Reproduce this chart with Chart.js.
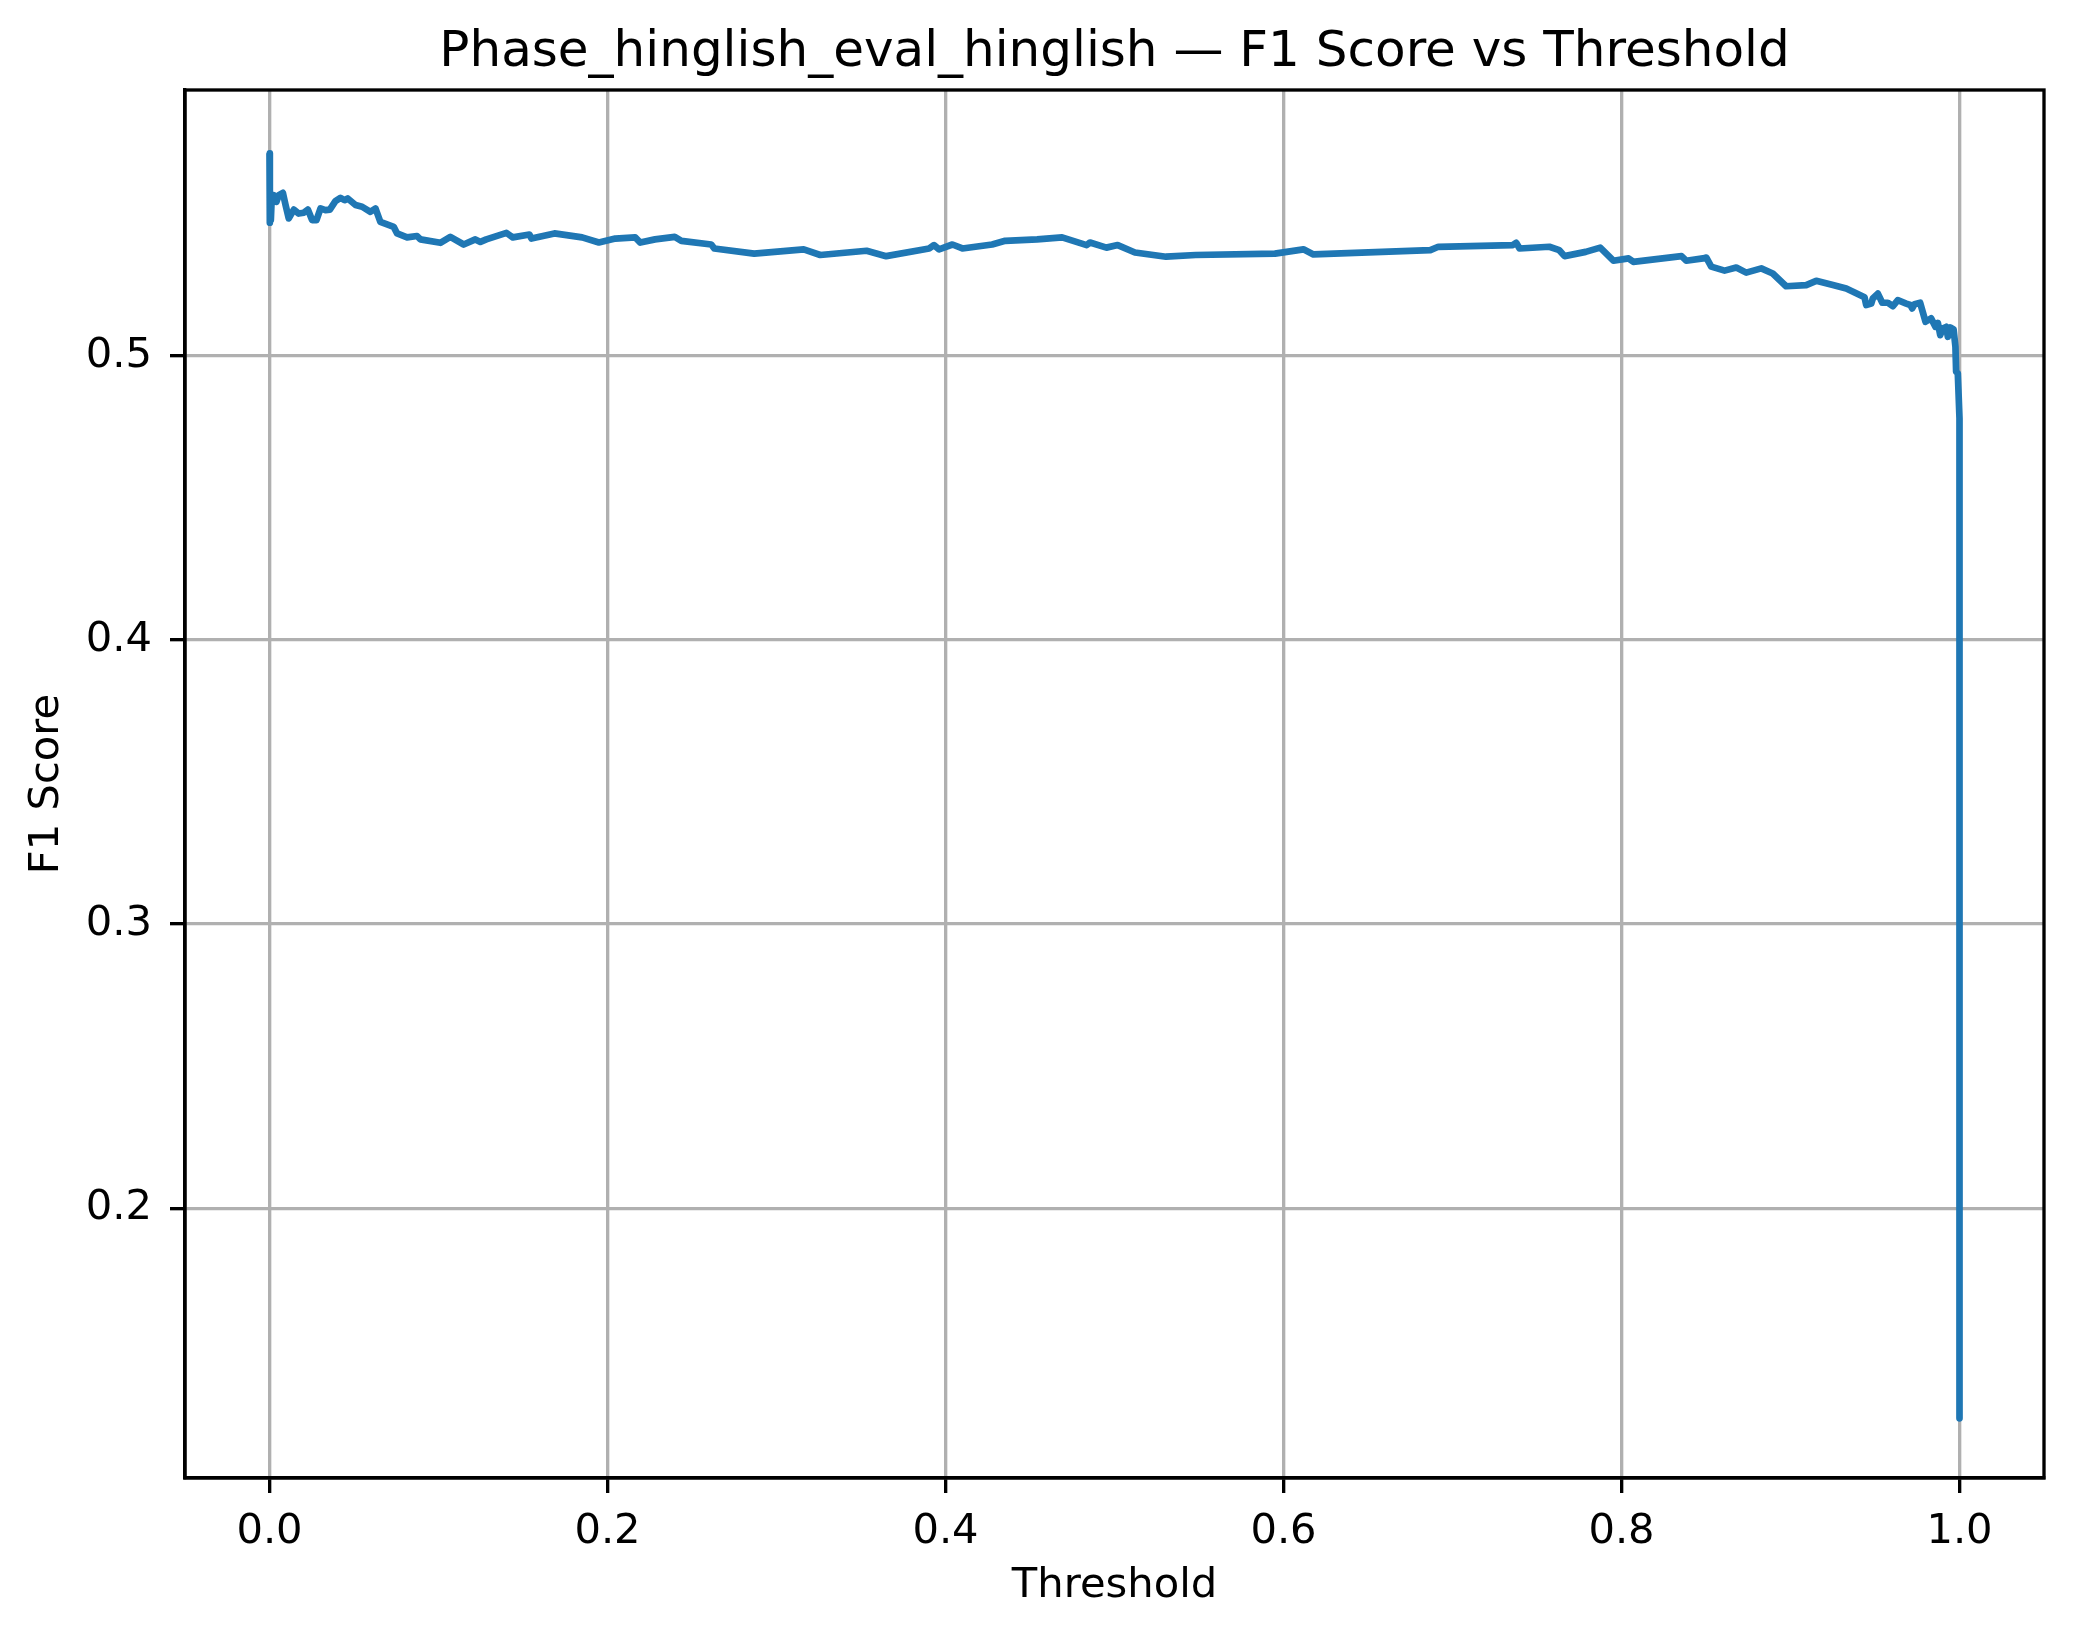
<!DOCTYPE html>
<html>
<head>
<meta charset="utf-8">
<script src="https://cdn.jsdelivr.net/npm/chart.js@4.4.1/dist/chart.umd.min.js"></script>
<style>
html, body { margin: 0; padding: 0; background: #ffffff; }
#wrap { width: 2074px; height: 1638px; }
</style>
</head>
<body>
<div id="wrap"><canvas id="c" width="2074" height="1638"></canvas></div>
<script>
const chartTitle = "Phase_hinglish_eval_hinglish \u2014 F1 Score vs Threshold";
const xLabel = "Threshold";
const yLabel = "F1 Score";
const xTicks = [0.0, 0.2, 0.4, 0.6, 0.8, 1.0];
const yTicks = [0.2, 0.3, 0.4, 0.5];

const thresholds = [
  0.0000, 0.0002, 0.0005, 0.0008, 0.0012, 0.0026, 0.0041, 0.0055, 0.0079, 0.0095,
  0.0114, 0.0144, 0.0173, 0.0203, 0.0227, 0.0252, 0.0278, 0.0302, 0.0331, 0.0357,
  0.0390, 0.0420, 0.0444, 0.0463, 0.0509, 0.0548, 0.0597, 0.0627, 0.0656, 0.0735,
  0.0755, 0.0814, 0.0873, 0.0893, 0.1011, 0.1070, 0.1149, 0.1218, 0.1248, 0.1283,
  0.1402, 0.1440, 0.1538, 0.1550, 0.1686, 0.1850, 0.1949, 0.2046, 0.2164, 0.2194,
  0.2281, 0.2398, 0.2437, 0.2614, 0.2632, 0.2868, 0.3161, 0.3259, 0.3533, 0.3649,
  0.3903, 0.3932, 0.3962, 0.4041, 0.4100, 0.4276, 0.4353, 0.4542, 0.4690, 0.4835,
  0.4855, 0.4952, 0.5019, 0.5121, 0.5305, 0.5480, 0.5949, 0.6118, 0.6177, 0.6869,
  0.6916, 0.7357, 0.7377, 0.7397, 0.7573, 0.7632, 0.7663, 0.7788, 0.7874, 0.7952,
  0.8042, 0.8070, 0.8355, 0.8383, 0.8482, 0.8502, 0.8531, 0.8610, 0.8679, 0.8738,
  0.8827, 0.8895, 0.8974, 0.9093, 0.9152, 0.9251, 0.9330, 0.9438, 0.9448, 0.9478,
  0.9487, 0.9517, 0.9543, 0.9576, 0.9606, 0.9635, 0.9685, 0.9709, 0.9720, 0.9734,
  0.9767, 0.9799, 0.9832, 0.9858, 0.9872, 0.9886, 0.9901, 0.9921, 0.9931, 0.9945,
  0.9965, 0.9976, 0.9980, 0.9990, 1.0000, 1.0000
];
const f1Scores = [
  0.5714, 0.5470, 0.5560, 0.5480, 0.5540, 0.5567, 0.5543, 0.5567, 0.5575, 0.5532,
  0.5485, 0.5516, 0.5502, 0.5505, 0.5516, 0.5479, 0.5479, 0.5520, 0.5514, 0.5516,
  0.5546, 0.5557, 0.5549, 0.5555, 0.5532, 0.5526, 0.5508, 0.5520, 0.5473, 0.5455,
  0.5432, 0.5418, 0.5423, 0.5411, 0.5399, 0.5420, 0.5393, 0.5411, 0.5402, 0.5411,
  0.5434, 0.5418, 0.5428, 0.5414, 0.5432, 0.5418, 0.5400, 0.5414, 0.5418, 0.5400,
  0.5411, 0.5420, 0.5406, 0.5393, 0.5379, 0.5361, 0.5376, 0.5356, 0.5371, 0.5352,
  0.5379, 0.5391, 0.5376, 0.5393, 0.5379, 0.5393, 0.5406, 0.5411, 0.5418, 0.5391,
  0.5400, 0.5382, 0.5391, 0.5365, 0.5350, 0.5356, 0.5361, 0.5376, 0.5358, 0.5373,
  0.5385, 0.5391, 0.5399, 0.5379, 0.5385, 0.5373, 0.5352, 0.5367, 0.5382, 0.5336,
  0.5344, 0.5332, 0.5352, 0.5336, 0.5344, 0.5347, 0.5315, 0.5301, 0.5312, 0.5294,
  0.5309, 0.5291, 0.5246, 0.5250, 0.5265, 0.5250, 0.5238, 0.5207, 0.5180, 0.5185,
  0.5203, 0.5220, 0.5188, 0.5188, 0.5176, 0.5197, 0.5185, 0.5180, 0.5168, 0.5183,
  0.5188, 0.5121, 0.5133, 0.5103, 0.5117, 0.5074, 0.5097, 0.5103, 0.5068, 0.5101,
  0.5094, 0.5033, 0.4945, 0.4939, 0.4780, 0.1260
];

const FONT = "'DejaVu Sans', sans-serif";
const PLOT_LEFT = 185, PLOT_TOP = 90, PLOT_RIGHT = 2044, PLOT_BOTTOM = 1478;
const CW = 2074, CH = 1638;

const points = thresholds.map((t, i) => ({ x: t, y: f1Scores[i] }));

const framePlugin = {
  id: 'frame',
  afterDatasetsDraw(chart) {
    const a = chart.chartArea, ctx = chart.ctx;
    ctx.save();
    ctx.strokeStyle = '#000000';
    ctx.lineWidth = 3.33;
    ctx.strokeRect(a.left, a.top, a.right - a.left, a.bottom - a.top);
    ctx.restore();
  },
  afterDraw(chart) {
    const a = chart.chartArea, ctx = chart.ctx;
    ctx.save();
    ctx.fillStyle = '#000000';
    ctx.font = "50px " + FONT;
    ctx.textAlign = 'center';
    ctx.textBaseline = 'alphabetic';
    ctx.fillText(chartTitle, (a.left + a.right) / 2, 66);
    ctx.restore();
  }
};

new Chart(document.getElementById('c'), {
  type: 'scatter',
  data: {
    datasets: [{
      data: points,
      showLine: true,
      borderColor: '#1f77b4',
      backgroundColor: '#1f77b4',
      borderWidth: 6.7,
      pointRadius: 0,
      pointHoverRadius: 0,
      tension: 0,
      borderJoinStyle: 'round',
      borderCapStyle: 'butt'
    }]
  },
  options: {
    responsive: false,
    devicePixelRatio: 1,
    animation: false,
    events: [],
    layout: { padding: { left: 0, top: PLOT_TOP, right: CW - PLOT_RIGHT, bottom: 0 } },
    plugins: {
      legend: { display: false },
      tooltip: { enabled: false },
      title: { display: false }
    },
    scales: {
      x: {
        type: 'linear',
        min: -0.05,
        max: 1.05,
        afterFit(s) { s.height = CH - PLOT_BOTTOM; },
        afterBuildTicks(s) { s.ticks = xTicks.map(v => ({ value: v })); },
        ticks: {
          color: '#000000',
          font: { family: FONT, size: 41.67 },
          padding: 14,
          maxRotation: 0,
          autoSkip: false,
          callback: v => v.toFixed(1)
        },
        grid: {
          color: '#b0b0b0',
          lineWidth: 3.33,
          drawTicks: true,
          tickLength: 15,
          tickColor: '#000000',
          tickWidth: 3.33
        },
        border: { display: true, color: '#000000', width: 3.33 },
        title: {
          display: true,
          text: xLabel,
          color: '#000000',
          font: { family: FONT, size: 41.67 },
          padding: { top: 0, bottom: 27 }
        }
      },
      y: {
        type: 'linear',
        min: 0.105,
        max: 0.5937,
        afterFit(s) { s.width = PLOT_LEFT; },
        afterBuildTicks(s) { s.ticks = yTicks.map(v => ({ value: v })); },
        ticks: {
          color: '#000000',
          font: { family: FONT, size: 41.67 },
          padding: 18,
          autoSkip: false,
          callback: v => v.toFixed(1)
        },
        grid: {
          color: '#b0b0b0',
          lineWidth: 3.33,
          drawTicks: true,
          tickLength: 15,
          tickColor: '#000000',
          tickWidth: 3.33
        },
        border: { display: true, color: '#000000', width: 3.33 },
        title: {
          display: true,
          text: yLabel,
          color: '#000000',
          font: { family: FONT, size: 41.67 },
          padding: { top: 22, bottom: 0 }
        }
      }
    }
  },
  plugins: [framePlugin]
});
</script>
</body>
</html>
